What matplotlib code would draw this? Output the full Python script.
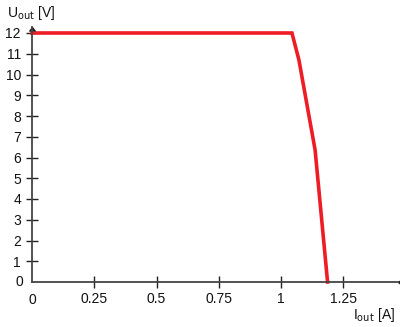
import matplotlib.pyplot as plt

plt.rcParams['font.family'] = ['Liberation Sans', 'DejaVu Sans']

# Kennlinie Ausgang
i_out = [0, 1.044, 1.072, 1.137, 1.187]
u_out = [12, 12, 10.7, 6.36, 0]

x_ticks = [0.25, 0.5, 0.75, 1, 1.25]
x_labels = ['0.25', '0.5', '0.75', '1', '1.25']
y_ticks = list(range(1, 13))

fig = plt.figure(figsize=(4.0, 3.27), dpi=100)
ax = fig.add_axes([32 / 400, 45 / 327, 366 / 400, 255 / 327])
ax.set_xlim(0, 366 / 249)
ax.set_ylim(0, 255 / 20.75)

ax.plot(i_out, u_out, color='#ee1c25', lw=2.6, solid_joinstyle='miter', clip_on=False)

axc = '#444444'
for s in ['top', 'right']:
    ax.spines[s].set_visible(False)
for s in ['left', 'bottom']:
    ax.spines[s].set_color(axc)
    ax.spines[s].set_linewidth(1.3)

ax.set_xticks(x_ticks)
ax.set_xticklabels(x_labels)
ax.set_yticks(y_ticks)
ax.tick_params(direction='inout', length=8, width=1, color='#222222',
               labelsize=10, labelcolor='#111111')
ax.tick_params(axis='x', pad=3)
ax.tick_params(axis='y', pad=4)

# Pfeilspitzen
ax.plot(1, 0, marker=4, color='#222222', ms=4, transform=ax.transAxes, clip_on=False)
ax.plot(0, 1, marker=6, color='#222222', ms=4, transform=ax.transAxes, clip_on=False)

fig.text(23 / 400, 1 - 282 / 327, '0', ha='right', va='center', fontsize=10, color='#111111')
fig.text(32 / 400, 1 - 300 / 327, '0', ha='center', va='center', fontsize=10, color='#111111')
fig.text(7 / 400, 1 - 13 / 327, r'U$_{\rm out}$ [V]', ha='left', va='center', fontsize=10, color='#111111')
fig.text(395 / 400, 1 - 315 / 327, r'I$_{\rm out}$ [A]', ha='right', va='center', fontsize=10, color='#111111')

fig.savefig('out.png', dpi=100)
